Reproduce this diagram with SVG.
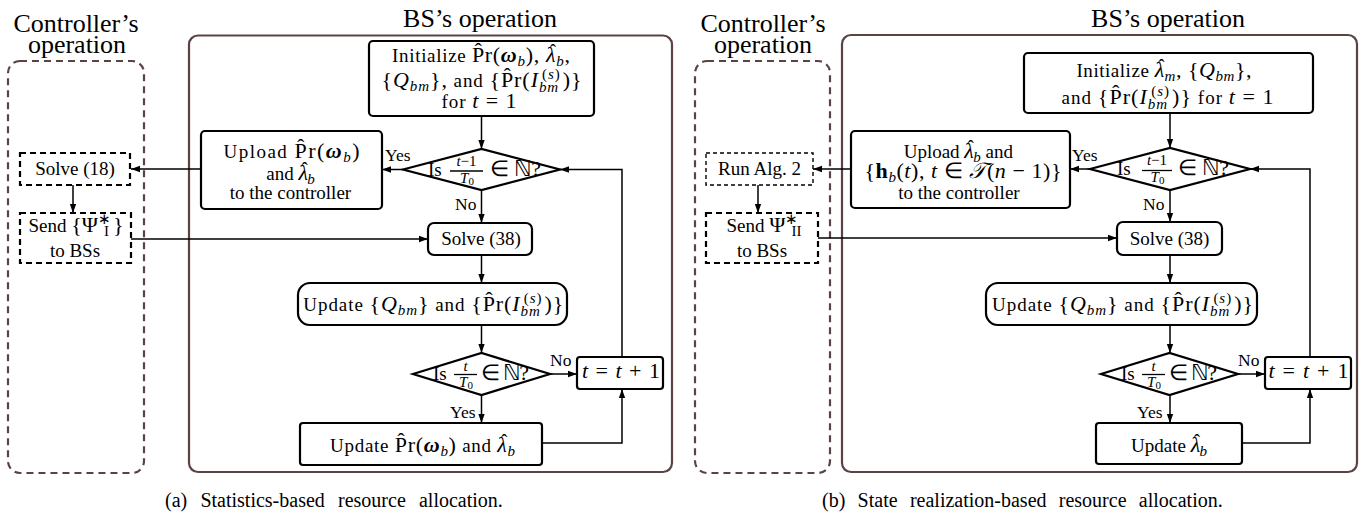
<svg xmlns="http://www.w3.org/2000/svg" width="1359" height="512" viewBox="0 0 1359 512" font-family="'Liberation Serif', serif">
<style>
.t{font-size:19px;fill:#000}
.h{font-size:26px}
.l{font-size:17.5px}
.c{font-size:20px}
.m{font-size:22px}
.i{font-style:italic}
.bi{font-style:italic;font-weight:bold}
.b{font-weight:bold}
.s{font-size:15px}
.f{font-size:15px}
.cont{fill:none;stroke:#5c4343;stroke-width:2.2;stroke-dasharray:7 5}
.bs{fill:none;stroke:#5c4343;stroke-width:2.2}
.n{fill:#fff;stroke:#000;stroke-width:2.2}
.d{fill:#fff;stroke:#000;stroke-width:2.2;stroke-dasharray:6 4}
.d2{fill:#fff;stroke:#000;stroke-width:1.4;stroke-dasharray:4 3}
.a{fill:none;stroke:#000;stroke-width:1.5;marker-end:url(#ah)}
</style>
<defs>
<marker id="ah" viewBox="0 0 10 10" refX="10" refY="5" markerWidth="9" markerHeight="9" markerUnits="userSpaceOnUse" orient="auto"><path d="M0,1.5 L10,5 L0,8.5 z" fill="#000"/></marker>
</defs>
<rect width="1359" height="512" fill="#fff"/>

<!-- ===== Panel (a) ===== -->
<g id="a-controller">
<rect class="cont" x="8" y="61" width="136" height="412" rx="12"/>
<text style="font-family:'Liberation Serif',serif" class="t h" x="76" y="32" text-anchor="middle">Controller’s</text>
<text style="font-family:'Liberation Serif',serif" class="t h" x="77" y="53" text-anchor="middle">operation</text>
</g>
<g id="a-bs">
<rect class="bs" x="189" y="35.5" width="483" height="436.5" rx="9"/>
<text style="font-family:'Liberation Serif',serif" class="t h" x="480" y="27" text-anchor="middle">BS’s operation</text>
</g>

<g id="a-connectors">
<path class="a" d="M481.5,116 V149"/>
<path class="a" d="M403,169.5 H382"/>
<path class="a" d="M201,169 H131"/>
<path class="a" d="M73,185 V213"/>
<path class="a" d="M131,239 H428"/>
<path class="a" d="M481.5,190 V223"/>
<path class="a" d="M481.5,255 V283"/>
<path class="a" d="M481.5,325 V353"/>
<path class="a" d="M481.5,395 V423"/>
<path class="a" d="M550,374 H577"/>
<path class="a" d="M542,443 H622 V389"/>
<path class="a" d="M622,357 V169.5 H560"/>
<text style="font-family:'Liberation Serif',serif" class="t l" x="385" y="161">Yes</text>
<text style="font-family:'Liberation Serif',serif" class="t l" x="455" y="210">No</text>
<text style="font-family:'Liberation Serif',serif" class="t l" x="550" y="366">No</text>
<text style="font-family:'Liberation Serif',serif" class="t l" x="450" y="418">Yes</text>
</g>

<g id="a-solve18">
<rect class="d" x="20" y="153" width="110" height="32"/>
<text style="font-family:'Liberation Serif',serif" class="t" x="75" y="175" text-anchor="middle">Solve (18)</text>
</g>
<g id="a-send">
<rect class="d" x="20" y="213" width="111" height="50"/>
<text style="font-family:'Liberation Serif',serif" class="t" x="76" y="232" text-anchor="middle">Send <tspan class="m">{Ψ</tspan><tspan class="s" dy="-8">∗</tspan><tspan class="s" dx="-7" dy="12">I</tspan><tspan class="m" dy="-4" dx="4">}</tspan></text>
<text style="font-family:'Liberation Serif',serif" class="t" x="75" y="257" text-anchor="middle">to BSs</text>
</g>
<g id="a-init">
<rect class="n" x="369" y="41" width="225" height="75" rx="4"/>
<text style="font-family:'Liberation Serif',serif" class="t" x="481" y="62" text-anchor="middle" textLength="178" lengthAdjust="spacing">Initialize <tspan class="m">P̂r(</tspan><tspan class="bi m">ω</tspan><tspan class="i s" dy="4">b</tspan><tspan class="m" dy="-4">), </tspan><tspan class="i m">λ</tspan><tspan dx="-6.5" dy="-5">ˆ</tspan><tspan class="i s" dx="-0.5" dy="9">b</tspan><tspan class="m" dy="-4">,</tspan></text>
<text style="font-family:'Liberation Serif',serif" class="t" x="481.5" y="87" text-anchor="middle" textLength="200" lengthAdjust="spacing"><tspan class="m">{</tspan><tspan class="i m">Q</tspan><tspan class="i s" dy="4">bm</tspan><tspan class="m" dy="-4">},</tspan> and <tspan class="m">{P̂r(</tspan><tspan class="i m">I</tspan><tspan class="i s" dy="5">bm</tspan><tspan class="s" dx="-17" dy="-13">(</tspan><tspan class="i s">s</tspan><tspan class="s">)</tspan><tspan class="m" dy="8" dx="2">)}</tspan></text>
<text style="font-family:'Liberation Serif',serif" class="t" x="479" y="108" text-anchor="middle" textLength="75" lengthAdjust="spacing">for <tspan class="i m">t</tspan><tspan class="m"> = 1</tspan></text>
</g>
<g id="a-upload">
<rect class="n" x="201" y="131" width="181" height="78" rx="4"/>
<text style="font-family:'Liberation Serif',serif" class="t" x="291.5" y="158" text-anchor="middle" textLength="136" lengthAdjust="spacing">Upload <tspan class="m">P̂r(</tspan><tspan class="bi m">ω</tspan><tspan class="i s" dy="4">b</tspan><tspan class="m" dy="-4">)</tspan></text>
<text style="font-family:'Liberation Serif',serif" class="t" x="290.5" y="180" text-anchor="middle">and <tspan class="i m">λ</tspan><tspan dx="-6.5" dy="-5">ˆ</tspan><tspan class="i s" dx="-0.5" dy="9">b</tspan></text>
<text style="font-family:'Liberation Serif',serif" class="t" x="290.5" y="199" text-anchor="middle">to the controller</text>
</g>
<g id="a-dec1">
<polygon class="n" points="403,169.5 481.5,149 560,169.5 481.5,190"/>
<text style="font-family:'Liberation Serif',serif" class="t" x="428" y="176">Is</text>
<text style="font-family:'Liberation Serif',serif" class="t f" x="466.5" y="166" text-anchor="middle"><tspan class="i">t</tspan>−1</text>
<line x1="450" y1="171" x2="483" y2="171" stroke="#000" stroke-width="1.3"/>
<text style="font-family:'Liberation Serif',serif" class="t f" x="467" y="183" text-anchor="middle"><tspan class="i">T</tspan><tspan dy="2" font-size="11">0</tspan></text>
<text style="font-family:'Liberation Serif',serif" class="t m" x="490" y="176" textLength="51" lengthAdjust="spacing">∈ ℕ?</text>
</g>
<g id="a-solve38">
<rect class="n" x="428" y="223" width="104" height="32" rx="6"/>
<text style="font-family:'Liberation Serif',serif" class="t" x="481" y="245" text-anchor="middle">Solve (38)</text>
</g>
<g id="a-updq">
<rect class="n" x="298" y="283" width="269" height="42" rx="12"/>
<text style="font-family:'Liberation Serif',serif" class="t" x="433.3" y="311" text-anchor="middle" textLength="260" lengthAdjust="spacing">Update <tspan class="m">{</tspan><tspan class="i m">Q</tspan><tspan class="i s" dy="4">bm</tspan><tspan class="m" dy="-4">}</tspan> and <tspan class="m">{P̂r(</tspan><tspan class="i m">I</tspan><tspan class="i s" dy="5">bm</tspan><tspan class="s" dx="-17" dy="-13">(</tspan><tspan class="i s">s</tspan><tspan class="s">)</tspan><tspan class="m" dy="8" dx="2">)}</tspan></text>
</g>
<g id="a-dec2">
<polygon class="n" points="413,374 481.5,353 550,374 481.5,395"/>
<text style="font-family:'Liberation Serif',serif" class="t" x="433" y="380">Is</text>
<text style="font-family:'Liberation Serif',serif" class="t f i" x="465.5" y="371" text-anchor="middle">t</text>
<line x1="454" y1="374.5" x2="477" y2="374.5" stroke="#000" stroke-width="1.3"/>
<text style="font-family:'Liberation Serif',serif" class="t f" x="466" y="387" text-anchor="middle"><tspan class="i">T</tspan><tspan dy="2" font-size="11">0</tspan></text>
<text style="font-family:'Liberation Serif',serif" class="t m" x="481" y="380" textLength="48" lengthAdjust="spacing">∈ ℕ?</text>
</g>
<g id="a-tinc">
<rect class="n" x="577" y="357" width="86" height="32" rx="3"/>
<text style="font-family:'Liberation Serif',serif" class="t m" x="621" y="378" text-anchor="middle" textLength="78" lengthAdjust="spacing"><tspan class="i">t</tspan> = <tspan class="i">t</tspan> + 1</text>
</g>
<g id="a-updpr">
<rect class="n" x="300" y="423" width="242" height="42" rx="3"/>
<text style="font-family:'Liberation Serif',serif" class="t" x="422.5" y="452" text-anchor="middle" textLength="185" lengthAdjust="spacing">Update <tspan class="m">P̂r(</tspan><tspan class="bi m">ω</tspan><tspan class="i s" dy="4">b</tspan><tspan class="m" dy="-4">)</tspan> and <tspan class="i m">λ</tspan><tspan dx="-6.5" dy="-5">ˆ</tspan><tspan class="i s" dx="-0.5" dy="9">b</tspan></text>
</g>
<text style="font-family:'Liberation Serif',serif;word-spacing:8.2px" class="t c" x="165" y="507">(a) Statistics-based resource allocation.</text>

<!-- ===== Panel (b) ===== -->
<g id="b-controller">
<rect class="cont" x="695" y="61" width="135" height="412" rx="12"/>
<text style="font-family:'Liberation Serif',serif" class="t h" x="763" y="32" text-anchor="middle">Controller’s</text>
<text style="font-family:'Liberation Serif',serif" class="t h" x="763" y="53" text-anchor="middle">operation</text>
</g>
<g id="b-bs">
<rect class="bs" x="842" y="35" width="515" height="437" rx="9"/>
<text style="font-family:'Liberation Serif',serif" class="t h" x="1168" y="27" text-anchor="middle">BS’s operation</text>
</g>

<g id="b-connectors">
<path class="a" d="M1170,113 V148"/>
<path class="a" d="M1090,169 H1070"/>
<path class="a" d="M851,169 H813"/>
<path class="a" d="M758,185 V213"/>
<path class="a" d="M818,238 H1117"/>
<path class="a" d="M1170,190 V222"/>
<path class="a" d="M1170,255 V283"/>
<path class="a" d="M1170,325 V353"/>
<path class="a" d="M1170,395 V423"/>
<path class="a" d="M1238,374 H1265"/>
<path class="a" d="M1242,443 H1310 V389"/>
<path class="a" d="M1310,357 V169 H1250"/>
<text style="font-family:'Liberation Serif',serif" class="t l" x="1072" y="161">Yes</text>
<text style="font-family:'Liberation Serif',serif" class="t l" x="1143" y="210">No</text>
<text style="font-family:'Liberation Serif',serif" class="t l" x="1238" y="366">No</text>
<text style="font-family:'Liberation Serif',serif" class="t l" x="1137" y="418">Yes</text>
</g>

<g id="b-runalg">
<rect class="d2" x="706" y="153" width="107" height="32"/>
<text style="font-family:'Liberation Serif',serif" class="t" x="759.5" y="175" text-anchor="middle">Run Alg. 2</text>
</g>
<g id="b-send">
<rect class="d" x="706" y="213" width="112" height="50"/>
<text style="font-family:'Liberation Serif',serif" class="t" x="764" y="232" text-anchor="middle">Send <tspan class="m">Ψ</tspan><tspan class="s" dy="-8">∗</tspan><tspan class="s" dx="-7" dy="12">II</tspan></text>
<text style="font-family:'Liberation Serif',serif" class="t" x="762" y="257" text-anchor="middle">to BSs</text>
</g>
<g id="b-init">
<rect class="n" x="1024" y="53" width="289" height="60" rx="4"/>
<text style="font-family:'Liberation Serif',serif" class="t" x="1164" y="77" text-anchor="middle" textLength="175" lengthAdjust="spacing">Initialize <tspan class="i m">λ</tspan><tspan dx="-6.5" dy="-5">ˆ</tspan><tspan class="i s" dx="-0.5" dy="9">m</tspan><tspan class="m" dy="-4">, {</tspan><tspan class="i m">Q</tspan><tspan class="i s" dy="4">bm</tspan><tspan class="m" dy="-4">},</tspan></text>
<text style="font-family:'Liberation Serif',serif" class="t" x="1167.5" y="104" text-anchor="middle" textLength="212" lengthAdjust="spacing">and <tspan class="m">{P̂r(</tspan><tspan class="i m">I</tspan><tspan class="i s" dy="5">bm</tspan><tspan class="s" dx="-17" dy="-13">(</tspan><tspan class="i s">s</tspan><tspan class="s">)</tspan><tspan class="m" dy="8" dx="2">)}</tspan> for <tspan class="i m">t</tspan><tspan class="m"> = 1</tspan></text>
</g>
<g id="b-upload">
<rect class="n" x="851" y="131" width="219" height="77" rx="4"/>
<text style="font-family:'Liberation Serif',serif" class="t" x="958.3" y="158" text-anchor="middle">Upload <tspan class="i m">λ</tspan><tspan dx="-6.5" dy="-5">ˆ</tspan><tspan class="i s" dx="-0.5" dy="9">b</tspan><tspan dy="-4"> and</tspan></text>
<text style="font-family:'Liberation Serif',serif" class="t m" x="963" y="178" text-anchor="middle" textLength="197" lengthAdjust="spacing">{<tspan class="b">h</tspan><tspan class="i s" dy="4">b</tspan><tspan dy="-4">(</tspan><tspan class="i">t</tspan>), <tspan class="i">t</tspan> ∈ <tspan class="i">𝒯</tspan>(<tspan class="i">n</tspan> − 1)}</text>
<text style="font-family:'Liberation Serif',serif" class="t" x="959" y="199" text-anchor="middle">to the controller</text>
</g>
<g id="b-dec1">
<polygon class="n" points="1090,169 1170,148 1250,169 1170,190"/>
<text style="font-family:'Liberation Serif',serif" class="t" x="1117" y="175">Is</text>
<text style="font-family:'Liberation Serif',serif" class="t f" x="1157" y="165" text-anchor="middle"><tspan class="i">t</tspan>−1</text>
<line x1="1142" y1="170.5" x2="1172" y2="170.5" stroke="#000" stroke-width="1.3"/>
<text style="font-family:'Liberation Serif',serif" class="t f" x="1157.5" y="182" text-anchor="middle"><tspan class="i">T</tspan><tspan dy="2" font-size="11">0</tspan></text>
<text style="font-family:'Liberation Serif',serif" class="t m" x="1178" y="175" textLength="51" lengthAdjust="spacing">∈ ℕ?</text>
</g>
<g id="b-solve38">
<rect class="n" x="1117" y="222" width="105" height="33" rx="6"/>
<text style="font-family:'Liberation Serif',serif" class="t" x="1169.5" y="245" text-anchor="middle">Solve (38)</text>
</g>
<g id="b-updq">
<rect class="n" x="986" y="283" width="271" height="42" rx="12"/>
<text style="font-family:'Liberation Serif',serif" class="t" x="1122.5" y="311" text-anchor="middle" textLength="261" lengthAdjust="spacing">Update <tspan class="m">{</tspan><tspan class="i m">Q</tspan><tspan class="i s" dy="4">bm</tspan><tspan class="m" dy="-4">}</tspan> and <tspan class="m">{P̂r(</tspan><tspan class="i m">I</tspan><tspan class="i s" dy="5">bm</tspan><tspan class="s" dx="-17" dy="-13">(</tspan><tspan class="i s">s</tspan><tspan class="s">)</tspan><tspan class="m" dy="8" dx="2">)}</tspan></text>
</g>
<g id="b-dec2">
<polygon class="n" points="1101,374 1169.5,353 1238,374 1169.5,395"/>
<text style="font-family:'Liberation Serif',serif" class="t" x="1121" y="380">Is</text>
<text style="font-family:'Liberation Serif',serif" class="t f i" x="1153.5" y="371" text-anchor="middle">t</text>
<line x1="1142" y1="374.5" x2="1165" y2="374.5" stroke="#000" stroke-width="1.3"/>
<text style="font-family:'Liberation Serif',serif" class="t f" x="1154" y="387" text-anchor="middle"><tspan class="i">T</tspan><tspan dy="2" font-size="11">0</tspan></text>
<text style="font-family:'Liberation Serif',serif" class="t m" x="1169" y="380" textLength="48" lengthAdjust="spacing">∈ ℕ?</text>
</g>
<g id="b-tinc">
<rect class="n" x="1265" y="357" width="86" height="32" rx="3"/>
<text style="font-family:'Liberation Serif',serif" class="t m" x="1308.5" y="378" text-anchor="middle" textLength="80" lengthAdjust="spacing"><tspan class="i">t</tspan> = <tspan class="i">t</tspan> + 1</text>
</g>
<g id="b-updl">
<rect class="n" x="1096" y="423" width="146" height="41" rx="3"/>
<text style="font-family:'Liberation Serif',serif" class="t" x="1169" y="452" text-anchor="middle">Update <tspan class="i m">λ</tspan><tspan dx="-6.5" dy="-5">ˆ</tspan><tspan class="i s" dx="-0.5" dy="9">b</tspan></text>
</g>
<text style="font-family:'Liberation Serif',serif;word-spacing:7.3px" class="t c" x="822" y="507">(b) State realization-based resource allocation.</text>
</svg>
